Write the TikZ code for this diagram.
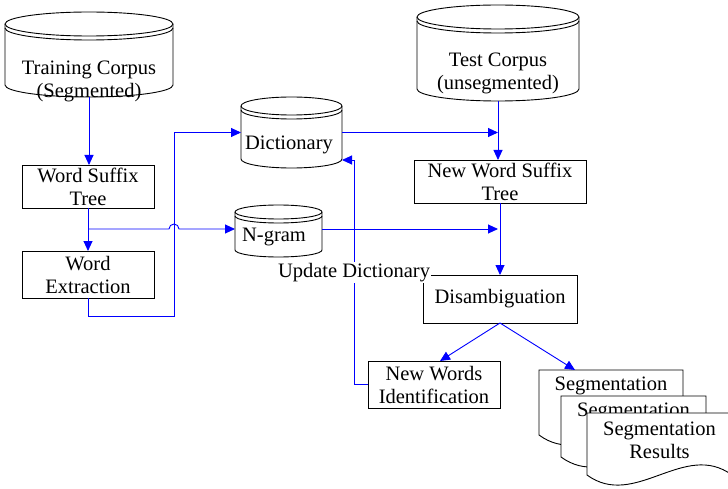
\documentclass[tikz,border=0pt]{standalone}
\usepackage{fontspec}
\setmainfont{Liberation Serif}
\usetikzlibrary{positioning,arrows.meta}
\definecolor{flow}{RGB}{0,0,255}
\tikzset{
  blk/.style={draw,fill=white,align=center,line width=0.9pt,inner sep=0pt,outer sep=0pt},
  dbl/.style={draw,fill=white,line width=0.9pt},
  txt/.style={align=center,inner sep=1pt,text=black},
  ar/.style={-{Triangle[length=10pt,width=9pt]},flow,line width=0.9pt},
}
% database store: name, left, top, right, bottom, ry
\newcommand{\dbcyl}[6]{%
  \pgfmathsetmacro\dbx{(#2+#4)/2}
  \pgfmathsetmacro\dby{(#3+#5)/2}
  \pgfmathsetmacro\dbr{(#4-#2)/2}
  \draw[dbl] (#2,#3+#6) -- (#2,#5-#6) arc[start angle=180,end angle=0,x radius=\dbr,y radius=#6]
    -- (#4,#3+#6) arc[start angle=0,end angle=-180,x radius=\dbr,y radius=#6] -- cycle;
  \draw[dbl,fill=none] (#2,#3+#6) arc[start angle=180,end angle=0,x radius=\dbr,y radius=#6];
  \draw[dbl,fill=none] (#2,#3+#6+4) arc[start angle=180,end angle=0,x radius=\dbr,y radius=#6];
  \node[inner sep=0pt,outer sep=0pt,minimum width=#4-#2,minimum height=#5-#3] (#1) at (\dbx,\dby) {};
}
% document page: name, left, top, width, height, text offset, text
\newcommand{\docpage}[7]{%
  \draw[dbl] (#2,#3) -- (#2+#4,#3) -- (#2+#4,#3+#5)
    .. controls (#2+0.67*#4,#3+#5-35) and (#2+0.33*#4,#3+#5+35) .. (#2,#3+#5) -- cycle;
  \node[txt] (#1) at (#2+#4/2,#3+#6) {#7};
  \coordinate (#1-in) at (#2+#4/4,#3);
}

\begin{document}
\begin{tikzpicture}[x=1pt,y=-1pt,font=\fontsize{20.5}{23}\selectfont]
  \clip (0,0) rectangle (728,489);
  % corpora and stores
  \dbcyl{train}{5}{12}{173}{97}{12}
  \node[txt] at (89,81) {Training Corpus\\(Segmented)};
  \dbcyl{test}{417}{5}{579}{101}{12}
  \node[txt] at (498,73.5) {Test Corpus\\(unsegmented)};
  \dbcyl{dict}{241}{97}{342}{168}{9}
  \node[txt] at (289,145) {Dictionary};
  \dbcyl{ngram}{235}{205}{322}{257}{7}
  \node[txt] at (274,237) {N-gram};
  % steps
  \node[blk,minimum width=132,minimum height=43] (wst) at (88,186.5) {Word Suffix\\Tree};
  \node[blk,minimum width=132,minimum height=47] (we) at (88,274.5) {Word\\Extraction};
  \node[blk,minimum width=172,minimum height=43] (nwst) at (500,181.5) {New Word Suffix\\Tree};
  \node[blk,minimum width=154,minimum height=48] (dis) at (500,299) {Disambiguation};
  \node[blk,minimum width=132,minimum height=47] (nwi) at (434,384.5) {New Words\\Identification};
  % results
  \docpage{segA}{539}{370}{144}{65}{15.5}{Segmentation}
  \docpage{segB}{561}{396}{145}{61}{15.5}{Segmentation}
  \docpage{segC}{587}{413}{145}{62}{27}{Segmentation\\Results}
  % flow
  \draw[ar] (train.south) -- (train.south |- wst.north);
  \draw[ar] (wst.south) -- (we.north);
  \coordinate (split) at (88,229);
  \draw[ar] (split) -- (169,229) arc[start angle=180,end angle=360,radius=5] -- (ngram.west |- split);
  \coordinate (jog) at (174,316);
  \draw[ar] (we.south) |- (jog) -- (jog |- dict.west) -- (dict.west);
  \draw[ar] (test.south) -- (test.south |- nwst.north);
  \draw[ar] (dict.east) -- (dict.east -| test.south);
  \draw[ar] (ngram.east |- split) -- (split -| test.south);
  \draw[ar] (nwst.south) -- (dis.north);
  \draw[ar] (dis.south) -- ([xshift=6]nwi.north);
  \draw[ar] (dis.south) -- (segA-in);
  \coordinate (upd) at (354,160);
  \draw[ar] (nwi.west) -| (upd) node[txt,fill=white,pos=0.75] {Update Dictionary} -- (dict.east |- upd);
\end{tikzpicture}
\end{document}
